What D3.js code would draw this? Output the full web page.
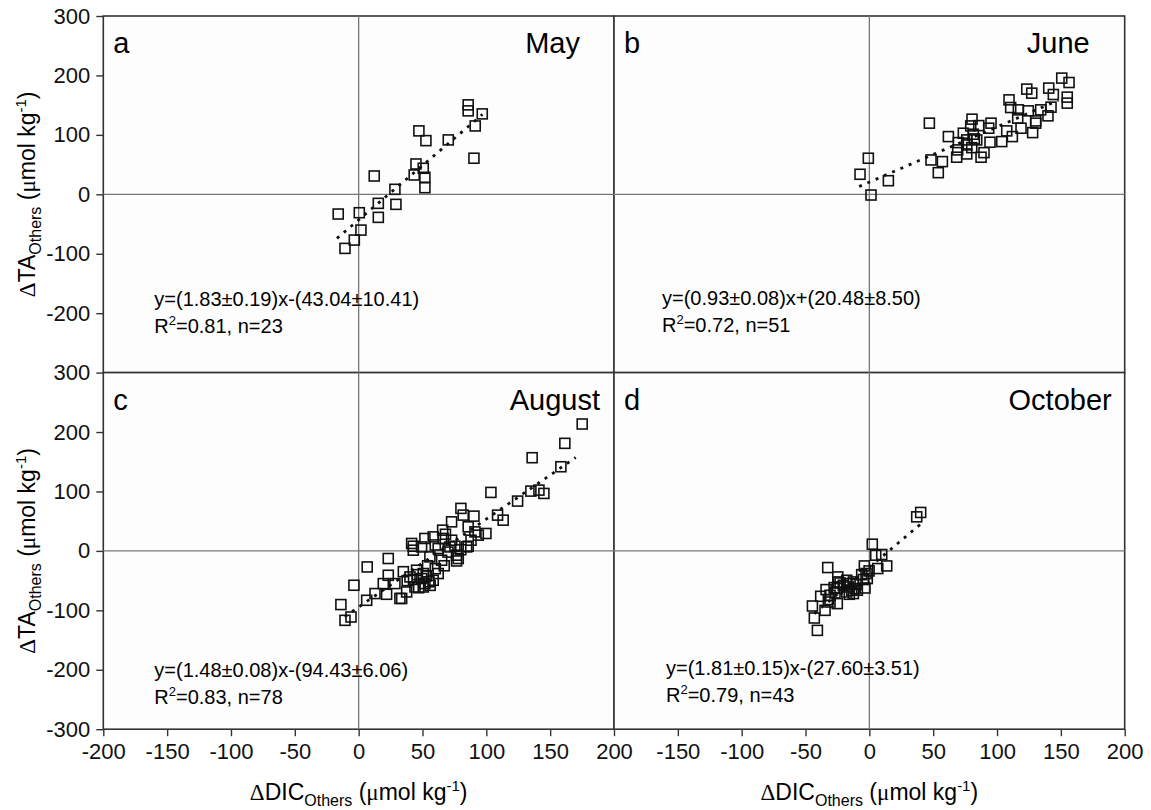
<!doctype html>
<html>
<head>
<meta charset="utf-8"/>
<style>
  html, body { margin: 0; padding: 0; background: #fff; }
  svg { display: block; font-family: Arial, "Liberation Sans", sans-serif; }
  .frame { fill: #fdfdfd; stroke: #333; stroke-width: 1.6; }
  .zero { stroke: #777; stroke-width: 1.3; }
  .pt { fill: none; stroke: #111; stroke-width: 1.6; }
  .fit { fill: none; stroke: #111; stroke-width: 2.8; stroke-dasharray: 3,6; }
  .axis path { display: none; }
  .axis line { stroke: #333; stroke-width: 1.4; }
  .axis text { font-size: 22px; fill: #111; font-family: Arial, "Liberation Sans", sans-serif; }
</style>
<script src="https://cdn.jsdelivr.net/npm/d3@7"></script>
</head>
<body>
<svg width="1151" height="810"></svg>
<script>
// ---- data ----
var months = ["May", "June", "August", "October"];
var letters = ["a", "b", "c", "d"];

var mayPts = [
  [85.8,150.5],[85.8,140.4],[96.8,135.3],[91.3,115],[90.3,60.7],[70.2,91.5],
  [47.2,106.7],[52.7,90.3],[44.9,51],[50.6,43.8],[43.5,32.5],[51.9,28.6],
  [51.9,11.1],[12.2,30.8],[28.4,8.4],[29.2,-16.9],[15.4,-15.2],[15.4,-38.8],
  [0.5,-31],[-16,-33.2],[1.8,-60.2],[-3.4,-77],[-10.7,-91]
];

var junePts = [
  [150.7,195.5],[156.4,188.1],[123.3,177],[127.2,170.2],[140.5,178.7],[144.1,167.9],
  [155,163.5],[155,153.4],[109.4,158.9],[110.7,146],[116.7,142.1],[124.5,140.4],
  [134.2,142.1],[142.3,146.6],[139.9,132],[116.2,128.1],[130.3,123.5],[130.3,119.7],
  [118.8,111.2],[127.9,103.8],[107.6,106.7],[112,97.1],[103.7,88.7],[94.5,87.6],
  [95.3,119.7],[93.5,111.2],[80.4,126.4],[79.4,115.1],[85.7,115.6],[73.6,102.8],
  [81.4,101.1],[61.9,97.1],[69.7,87],[82.2,93.2],[76.3,83.1],[80.2,78.5],
  [69.2,74.7],[76.3,67.9],[68.4,62.4],[89.8,70.1],[87.5,62.4],[47,119.7],
  [48.3,57.8],[57.2,55],[54,36.4],[14.9,22.9],[-0.8,60.7],[-7.3,33.7],
  [1.3,-1.2],[84.1,91.5],[76.3,91.5]
];

var augustPts = [
  [175.1,213.5],[161.5,181],[135.9,156.8],[158.4,141.6],[103.6,98.4],[134.9,100.6],
  [141.2,102.3],[145.1,96.7],[124.5,83.8],[108.8,60.2],[113.2,51.7],[80.1,71.5],
  [81.9,60.2],[90.3,58.5],[72.8,48.9],
  [-13.9,-90.3],[-10.7,-116.8],[-6,-111.2],[-3.7,-57.8],[6.3,-83.1],[6.7,-27],
  [12.8,-71.8],[19.3,-55],[21.9,-73],[23.2,-12.8],[23.2,-41],[28.4,-55],[32.3,-80],
  [33.7,-80],[37.6,-69.1],[40.2,-43.8],[42.8,1.2],[41.5,12.5],[45.4,-32.5],
  [44.1,-60.7],[50.6,-38.1],[49.3,-46.5],[51.9,-55],[50.6,-60.7],[58.4,-49.4],
  [62.3,-38.1],[55.8,-10.1],[49.3,6.7],[65,-15.7],[62.3,4],[71.5,6.7],
  [76.7,-7.2],[76.7,-16.9],[78,-12.8],[84.6,6.7],[72.8,18],
  [85.8,40.5],[91.1,32],[93.7,26.5],[99.7,29.3],[65.8,34.9],[58.4,23.6],
  [51.9,20.9],[66.3,20.9],[42.8,7.9],[75.4,7.9],[85.8,7.9],
  [35,-35],[38,-50],[43,-48],[46,-40],[53,-42],[55,-52],[47,-62],[56,-58],
  [60,-30],[67,-25],[70,-2],[80,2],[88,18],[68,28],[60,10],[54,-25]
];

var octoberPts = [
  [2.3,11.3],[5,-7.2],[9.7,-6.1],[13.6,-25.3],[6.6,-29.7],[-3.9,-25.3],
  [-0.2,-33.7],[-2.6,-38.1],[-4.7,-48.2],[-3.4,-62.4],[-32.6,-28],[-24.7,-43.8],
  [-24.3,-52.2],[-17.7,-49.4],[-15.1,-55],[-12.5,-52.2],[-10.4,-56.6],[-9.4,-66.2],
  [-13.8,-66.2],[-17.7,-69.1],[-15.7,-73],[-12.5,-71.8],[-25.1,-63.4],[-26.9,-70.8],
  [-30.8,-74.7],[-25.1,-88.7],[-30.8,-86],[-38.1,-76.4],[-32.1,-81.9],[-34.7,-100],
  [-44.6,-92.7],[-43.1,-112.9],[-40.7,-133.7],[-27.6,-61.7],[-20.4,-57.8],[-16.4,-60.7],
  [-1.6,-46.5],[-11.2,-63.4],[40.2,64.7],[37.1,57.3],[-22.9,-53.9],[-33.9,-65.1],
  [-6,-40]
];

// regression lines: slope, intercept, x range of the fitted line
var fitSlopes = [1.83, 0.93, 1.48, 1.81];
var fitIntercepts = [-43.04, 20.48, -94.43, -27.60];
var fitRanges = [[-17, 97], [-8, 148], [-11, 170], [-43, 41]];

var eqLines = [
  "y=(1.83\u00b10.19)x-(43.04\u00b110.41)",
  "y=(0.93\u00b10.08)x+(20.48\u00b18.50)",
  "y=(1.48\u00b10.08)x-(94.43\u00b16.06)",
  "y=(1.81\u00b10.15)x-(27.60\u00b13.51)"
];
var r2Values = ["0.81", "0.72", "0.83", "0.79"];
var nValues = ["23", "51", "78", "43"];

var xDomain = [-200, 200];
var yDomain = [-300, 300];
var xTicks = [-200, -150, -100, -50, 0, 50, 100, 150, 200];
var yTicks = [-300, -200, -100, 0, 100, 200, 300];

// ---- layout ----
var svg = d3.select("svg");
var plotLeft = 103.3, plotTop = 16, panelW = 510.7, panelH = 356.6;
var monthRight = [34, 35, 14, 13];   // month label distance from panel's right edge
var eqLeft = [51, 48, 51, 52];
var eqBase = [290, 289, 304, 302];
var plainNum = function(d) { return String(d); };   // hyphen minus, as in the figure

var allPts = [mayPts, junePts, augustPts, octoberPts];

// backgrounds first so frames share edges cleanly
allPts.forEach(function(pts, i) {
  var col = i % 2, row = Math.floor(i / 2);
  var x0 = plotLeft + col * panelW, y0 = plotTop + row * panelH;
  svg.append("rect").attr("class", "frame")
    .attr("x", x0).attr("y", y0).attr("width", panelW).attr("height", panelH);
});

allPts.forEach(function(pts, i) {
  var col = i % 2, row = Math.floor(i / 2);
  var x0 = plotLeft + col * panelW, y0 = plotTop + row * panelH;
  var x = d3.scaleLinear().domain(xDomain).range([x0, x0 + panelW]);
  var y = d3.scaleLinear().domain(yDomain).range([y0 + panelH, y0]);
  var g = svg.append("g");

  g.append("line").attr("class", "zero")
    .attr("x1", x(0)).attr("x2", x(0)).attr("y1", y0).attr("y2", y0 + panelH);
  g.append("line").attr("class", "zero")
    .attr("x1", x0).attr("x2", x0 + panelW).attr("y1", y(0)).attr("y2", y(0));

  if (col === 0) {
    g.append("g").attr("class", "axis")
      .attr("transform", "translate(" + x0 + ",0)")
      .call(d3.axisLeft(y)
        .tickValues(row === 0 ? yTicks.slice(1) : yTicks)
        .tickSize(7).tickPadding(6).tickFormat(plainNum));
  }
  if (row === 1) {
    g.append("g").attr("class", "axis")
      .attr("transform", "translate(0," + (y0 + panelH) + ")")
      .call(d3.axisBottom(x)
        .tickValues(col === 0 ? xTicks : xTicks.slice(1))
        .tickSize(7).tickPadding(7).tickFormat(plainNum));
  }

  // fitted line
  var fr = fitRanges[i];
  g.append("path").attr("class", "fit")
    .attr("d", d3.line().x(function(d) { return x(d); })
      .y(function(d) { return y(fitSlopes[i] * d + fitIntercepts[i]); })(fr));

  // open square markers
  var s = 10;
  g.selectAll("rect.pt").data(pts).enter().append("rect")
    .attr("class", "pt")
    .attr("x", function(d) { return x(d[0]) - s / 2; })
    .attr("y", function(d) { return y(d[1]) - s / 2; })
    .attr("width", s).attr("height", s);

  // panel letter and month
  g.append("text").attr("x", x0 + 10).attr("y", y0 + 37)
    .style("font-size", "29px").text(letters[i]);
  g.append("text").attr("x", x0 + panelW - monthRight[i]).attr("y", y0 + 37)
    .attr("text-anchor", "end").style("font-size", "29px").text(months[i]);

  // regression text
  g.append("text").attr("x", x0 + eqLeft[i]).attr("y", y0 + eqBase[i])
    .style("font-size", "20px").text(eqLines[i]);
  var r = g.append("text").attr("x", x0 + eqLeft[i]).attr("y", y0 + eqBase[i] + 27)
    .style("font-size", "20px");
  r.append("tspan").text("R");
  r.append("tspan").attr("dy", -8).style("font-size", "13px").text("2");
  r.append("tspan").attr("dy", 8).text("=" + r2Values[i] + ", n=" + nValues[i]);
});

// axis titles
function title(sel, main) {
  sel.append("tspan").style("font-family", "'Liberation Serif', 'DejaVu Serif', serif").text("\u0394");
  sel.append("tspan").text(main);
  sel.append("tspan").attr("dy", 6).style("font-size", "16px").text("Others");
  sel.append("tspan").attr("dy", -6).text(" (");
  sel.append("tspan").style("font-family", "'Liberation Serif', 'DejaVu Serif', serif").text("\u03bc");
  sel.append("tspan").text("mol kg");
  sel.append("tspan").attr("dy", -9).style("font-size", "15px").text("-1");
  sel.append("tspan").attr("dy", 9).text(")");
}

[0, 1].forEach(function(row) {
  var cy = plotTop + row * panelH + panelH / 2;
  var t = svg.append("text").attr("text-anchor", "middle")
    .attr("transform", "translate(35," + cy + ") rotate(-90)")
    .style("font-size", "23px");
  title(t, "TA");
});
[0, 1].forEach(function(col) {
  var cx = plotLeft + col * panelW + panelW / 2;
  var t = svg.append("text").attr("text-anchor", "middle")
    .attr("x", cx).attr("y", 800)
    .style("font-size", "23px");
  title(t, "DIC");
});
</script>
</body>
</html>
